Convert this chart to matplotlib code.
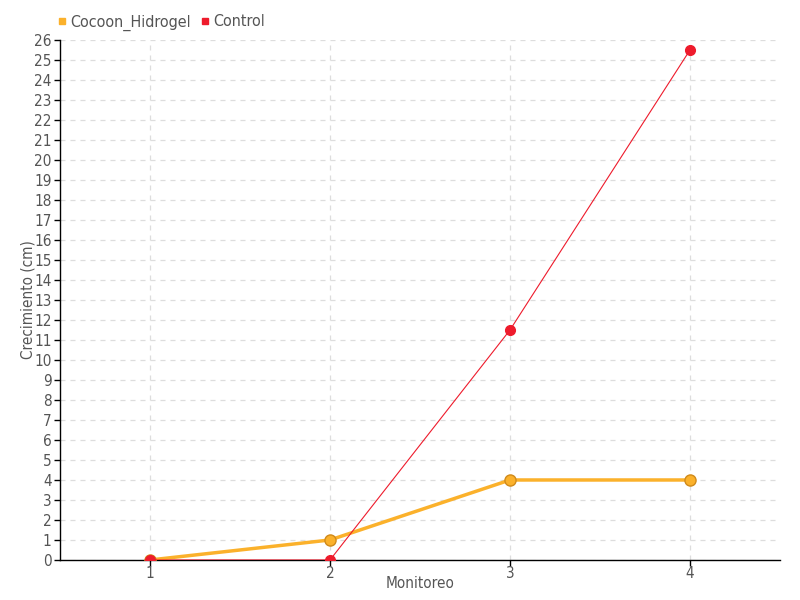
import matplotlib.pyplot as plt
from matplotlib.lines import Line2D

plt.rcParams['font.family'] = ['DejaVu Sans']
plt.rcParams['font.stretch'] = 'condensed'

# Data
monitoreo = [1, 2, 3, 4]
cocoon_hidrogel = [0, 1, 4, 4]
control = [0, 0, 11.5, 25.5]

orange = "#fbb12b"
red = "#ee1b2c"

fig = plt.figure(figsize=(8, 6), dpi=100)
ax = fig.add_axes([0.075, 0.0667, 0.9, 0.8667])

ax.plot(monitoreo, cocoon_hidrogel, color=orange, linewidth=2.5, marker='o',
        markersize=8, markerfacecolor=orange, markeredgecolor="#d08a1a",
        markeredgewidth=1, zorder=3)
ax.plot(monitoreo, control, color=red, linewidth=0.8, marker='o',
        markersize=7, markerfacecolor=red, markeredgecolor=red, zorder=4)

ax.set_xlim(0.5, 4.5)
ax.set_ylim(0, 26)
ax.set_xticks(monitoreo)
ax.set_yticks(range(0, 27))

ax.grid(True, color="#dddddd", linestyle=(0, (4, 4)), linewidth=0.9)
ax.set_axisbelow(True)
for s in ["top", "right"]:
    ax.spines[s].set_visible(False)
ax.spines["left"].set_linewidth(1)
ax.spines["bottom"].set_linewidth(1)

ax.tick_params(axis='both', colors="black", labelcolor="#555555",
               labelsize=11, length=4, width=1)
ax.tick_params(axis='x', pad=0)
ax.tick_params(axis='y', pad=2)

ax.set_xlabel("Monitoreo", color="#555555", fontsize=11, labelpad=-3)
ax.set_ylabel("Crecimiento (cm)", color="#555555", fontsize=11, labelpad=-1)

handles = [
    Line2D([], [], marker='s', linestyle='none', color=orange, markersize=5),
    Line2D([], [], marker='s', linestyle='none', color=red, markersize=5),
]
fig.legend(handles, ["Cocoon_Hidrogel", "Control"], loc="upper left",
           bbox_to_anchor=(0.05, 1.0), ncol=2, frameon=False,
           fontsize=11.5, handletextpad=0.0, columnspacing=0.4,
           labelcolor="#555555", handlelength=1.0)

fig.savefig("out.png")
